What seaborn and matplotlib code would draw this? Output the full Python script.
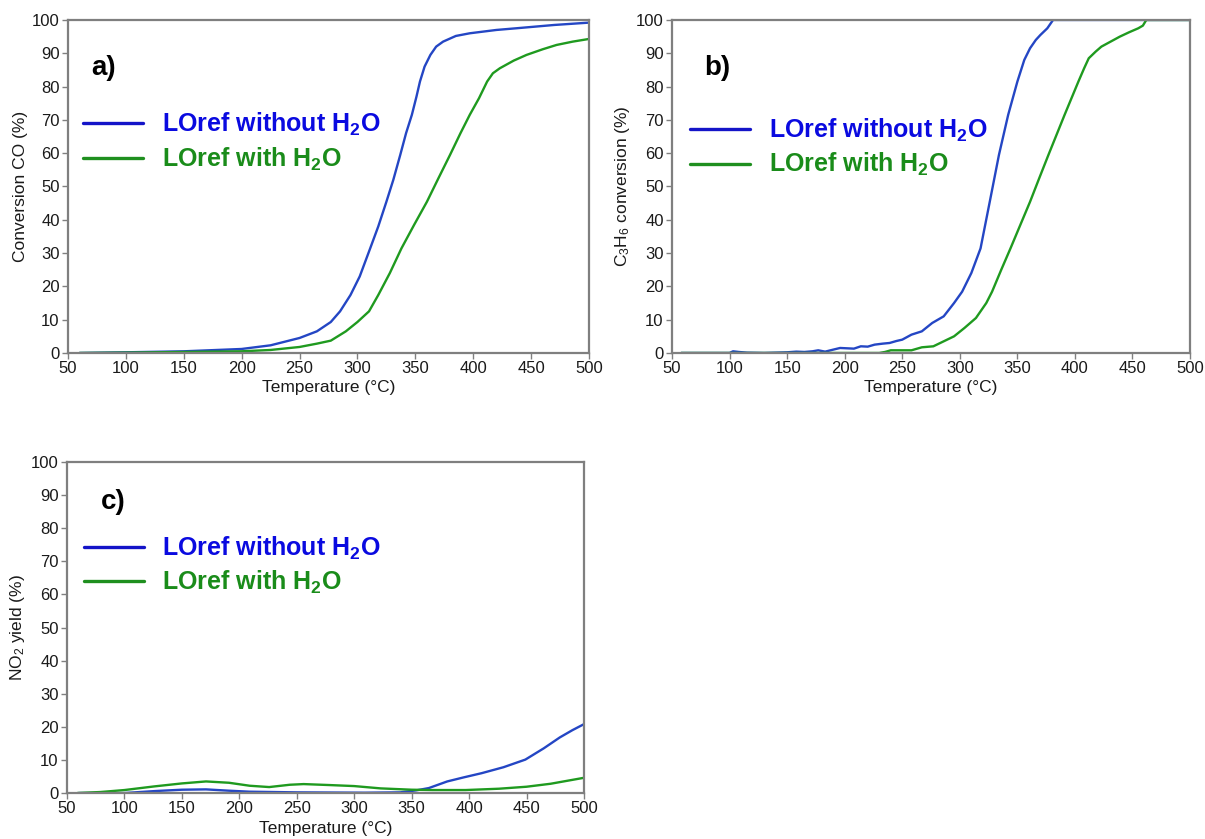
import numpy as np
import pandas as pd
import matplotlib
matplotlib.use("Agg")
import matplotlib.pyplot as plt
from matplotlib.lines import Line2D
import seaborn as sns

# ---------------- data ----------------
# Panel a: CO conversion (%)
a_blue_T = [60, 100, 150, 200, 225, 250, 265, 277, 285, 294, 302, 311, 318, 325, 331, 337, 342, 347,
            351, 354, 358, 363, 368, 374, 385, 397, 420, 437, 470, 500]
a_blue_V = [0, 0.2, 0.5, 1.2, 2.3, 4.5, 6.5, 9.3, 12.5, 17.4, 23, 31.4, 38, 45.4, 52, 59.5, 66, 71.5,
            77, 81.5, 86, 89.5, 92, 93.5, 95.2, 96, 97, 97.5, 98.5, 99.2]
a_green_T = [60, 100, 150, 200, 225, 250, 265, 277, 290, 300, 310, 318, 328, 338, 349, 360, 370, 380,
             389, 397, 405, 412, 417, 423, 435, 446, 460, 472, 486, 500]
a_green_V = [0, 0.1, 0.3, 0.5, 0.9, 1.8, 2.8, 3.7, 6.5, 9.3, 12.5, 17.4, 24, 31.4, 38.5, 45.4, 52.5, 59.5,
             66, 71.5, 76.5, 81.5, 84, 85.5, 87.8, 89.5, 91.2, 92.5, 93.5, 94.3]

# Panel b: C3H6 conversion (%)
b_blue_T = [58, 100, 103, 108, 115, 130, 150, 158, 165, 172, 177, 183, 190, 196, 202, 208, 214, 220,
            226, 233, 239, 245, 250, 258, 267, 276, 286, 295, 302, 310, 318, 326, 334, 342, 350, 356,
            361, 366, 370, 376, 381, 500]
b_blue_V = [0, 0, 0.5, 0.3, 0.1, 0, 0.2, 0.4, 0.3, 0.5, 0.8, 0.4, 1.0, 1.5, 1.4, 1.3, 2.0, 1.9,
            2.5, 2.8, 3.0, 3.6, 4.0, 5.5, 6.5, 9, 11, 15, 18.4, 24, 31.4, 45.4, 59.5, 71.5, 81.5, 88,
            91.5, 94, 95.5, 97.5, 100, 100]
b_green_T = [58, 230, 235, 240, 258, 267, 277, 286, 295, 304, 314, 323, 328, 336, 344, 352, 361, 369,
             377, 384, 391, 397, 403, 408, 412, 418, 423, 431, 439, 447, 455, 459, 462, 500]
b_green_V = [0, 0, 0.3, 0.8, 0.8, 1.7, 2.0, 3.5, 5, 7.5, 10.5, 15, 18.4, 25, 31.4, 38, 45.4, 52.5,
             59.5, 65.5, 71.5, 76.5, 81.5, 85.5, 88.5, 90.5, 92, 93.5, 95, 96.3, 97.5, 98.3, 100, 100]

# Panel c: NO2 yield (%)
c_blue_T = [60, 100, 127, 150, 171, 191, 209, 250, 309, 340, 354, 365, 381, 395, 411, 430, 449, 465,
            479, 490, 500]
c_blue_V = [0, 0, 0.6, 1.0, 1.1, 0.7, 0.4, 0.2, 0.1, 0.2, 0.8, 1.5, 3.5, 4.7, 6.0, 7.8, 10.1, 13.5,
            16.8, 19, 20.8]
c_green_T = [59, 79, 100, 126, 150, 171, 191, 209, 226, 244, 256, 279, 300, 323, 350, 368, 397, 426,
             450, 471, 500]
c_green_V = [0, 0.3, 0.9, 2.0, 2.9, 3.5, 3.1, 2.2, 1.8, 2.5, 2.7, 2.4, 2.1, 1.4, 1.0, 0.9, 0.9, 1.3,
             1.9, 2.8, 4.6]

series_names = ["LOref without H$_\\mathbf{2}$O", "LOref with H$_\\mathbf{2}$O"]
panel_labels = ["a)", "b)", "c)"]
y_labels = ["Conversion CO (%)", "C$_3$H$_6$ conversion (%)", "NO$_2$ yield (%)"]
x_label = "Temperature (°C)"
x_ticks = list(range(50, 501, 50))
y_ticks = list(range(0, 101, 10))

line_colors = ["#2446c4", "#1f9a1f"]
legend_line_colors = ["#1414c8", "#1f8f1f"]
text_colors = ["#0a0ae0", "#1a8c1a"]

# ---------------- style ----------------
sns.set_theme(style="white")
plt.rcParams["font.family"] = ["Liberation Sans", "DejaVu Sans"]
plt.rcParams["mathtext.fontset"] = "custom"
plt.rcParams["mathtext.rm"] = "Liberation Sans"
plt.rcParams["mathtext.it"] = "Liberation Sans:italic"
plt.rcParams["mathtext.bf"] = "Liberation Sans:bold"

fig = plt.figure(figsize=(12.05, 8.39), dpi=100)
ax_a = fig.add_axes([0.0564, 0.5793, 0.4324, 0.3969])
ax_b = fig.add_axes([0.5577, 0.5793, 0.4299, 0.3969])
ax_c = fig.add_axes([0.0556, 0.0548, 0.4290, 0.3945])

panels = [
    (ax_a, a_blue_T, a_blue_V, a_green_T, a_green_V, (0.029, 0.633), (0.069, 0.857)),
    (ax_b, b_blue_T, b_blue_V, b_green_T, b_green_V, (0.035, 0.617), (0.088, 0.857)),
    (ax_c, c_blue_T, c_blue_V, c_green_T, c_green_V, (0.032, 0.688), (0.090, 0.879)),
]

for i, (ax, bt, bv, gt, gv, leg_pos, lab_pos) in enumerate(panels):
    df = pd.concat([
        pd.DataFrame({"T": bt, "V": bv, "s": series_names[0]}),
        pd.DataFrame({"T": gt, "V": gv, "s": series_names[1]}),
    ])
    sns.lineplot(data=df, x="T", y="V", hue="s", palette=dict(zip(series_names, line_colors)),
                 estimator=None, errorbar=None, linewidth=1.7, legend=False, ax=ax)
    ax.set_xlim(50, 500)
    ax.set_ylim(0, 100)
    ax.set_xticks(x_ticks)
    ax.set_yticks(y_ticks)
    ax.tick_params(axis="both", which="major", direction="out", length=4, width=1,
                   color="#808080", labelsize=12, labelcolor="#1a1a1a", pad=2,
                   bottom=True, left=True)
    for sp in ax.spines.values():
        sp.set_color("#7f7f7f")
        sp.set_linewidth(1.6)
    ax.set_xlabel(x_label, fontsize=12.5, color="#1a1a1a", labelpad=3)
    ax.set_ylabel(y_labels[i], fontsize=12.5, color="#1a1a1a", labelpad=3)
    ax.grid(False)

    handles = [Line2D([], [], color=legend_line_colors[k], linewidth=2.4) for k in range(2)]
    leg = ax.legend(handles, series_names, loc="center left", bbox_to_anchor=leg_pos,
                    frameon=False, borderpad=0, borderaxespad=0, handlelength=2.4,
                    handletextpad=0.75, labelspacing=0.3,
                    prop={"size": 18, "weight": "bold"})
    for k, t in enumerate(leg.get_texts()):
        t.set_color(text_colors[k])
    ax.text(lab_pos[0], lab_pos[1], panel_labels[i], transform=ax.transAxes,
            fontsize=20, fontweight="bold", ha="center", va="center", color="#000000")

fig.savefig("out.png", dpi=100, facecolor="white")
